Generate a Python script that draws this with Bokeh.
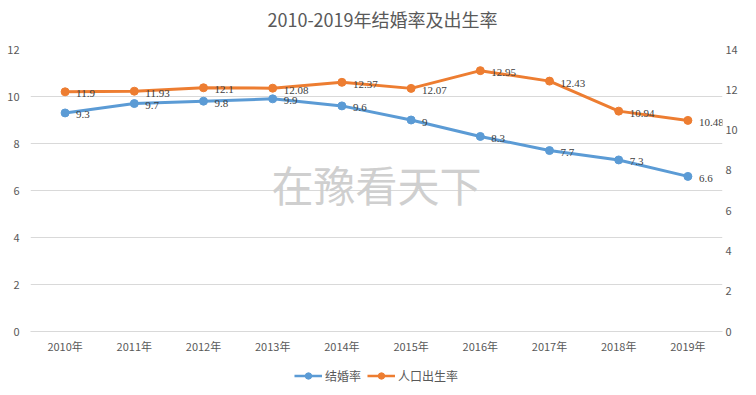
from bokeh.plotting import figure
from bokeh.layouts import column
from bokeh.models import (FactorRange, Range1d, LinearAxis, Legend, LegendItem,
                          Label, LabelSet, ColumnDataSource, FixedTicker)
from bokeh.embed import file_html
from bokeh.resources import INLINE

title_text = "2010-2019年结婚率及出生率"
years = ["2010年", "2011年", "2012年", "2013年", "2014年",
         "2015年", "2016年", "2017年", "2018年", "2019年"]
marriage = [9.3, 9.7, 9.8, 9.9, 9.6, 9, 8.3, 7.7, 7.3, 6.6]
birth = [11.9, 11.93, 12.1, 12.08, 12.37, 12.07, 12.95, 12.43, 10.94, 10.48]
left_ticks = [0, 2, 4, 6, 8, 10, 12]
right_ticks = [0, 2, 4, 6, 8, 10, 12, 14]
series_names = ["结婚率", "人口出生率"]

BLUE = "#5B9BD5"
ORANGE = "#ED7D31"
GRAY = "#595959"
CJK = "Noto Sans CJK SC"

src_m = ColumnDataSource(dict(x=years, y=marriage, t=[f"{v:g}" for v in marriage]))
src_b = ColumnDataSource(dict(x=years, y=birth, t=[f"{v:g}" for v in birth]))


def style_axis(ax, standoff):
    ax.axis_line_color = None
    ax.major_tick_line_color = None
    ax.minor_tick_line_color = None
    ax.major_tick_out = 0
    ax.major_tick_in = 0
    ax.minor_tick_out = 0
    ax.minor_tick_in = 0
    ax.major_label_text_font_size = "11px"
    ax.major_label_text_color = GRAY
    ax.major_label_text_font = CJK
    ax.major_label_standoff = standoff


def strip(height, x_range, y_range):
    f = figure(width=740, height=height, x_range=x_range, y_range=y_range,
               output_backend="svg", toolbar_location=None,
               x_axis_location=None, y_axis_location=None, min_border=0)
    f.outline_line_color = None
    f.grid.visible = False
    return f


# title strip
tt = strip(36, Range1d(0, 1), Range1d(0, 1))
tt.add_layout(Label(x=0.5, y=0.5, x_offset=6, text=title_text,
                    text_font_size="18px", text_color=GRAY, text_font=CJK,
                    text_align="center", text_baseline="middle"))

# main chart
p = figure(width=740, height=327, x_range=FactorRange(factors=years),
           y_range=Range1d(0, 12), output_backend="svg", toolbar_location=None,
           min_border_left=30, min_border_right=15, min_border_top=13,
           min_border_bottom=32)
p.extra_y_ranges = {"right": Range1d(0, 14)}

p.outline_line_color = None
p.xgrid.visible = False
p.ygrid.grid_line_color = "#d9d9d9"
p.ygrid.grid_line_width = 1

p.yaxis.ticker = FixedTicker(ticks=left_ticks)
style_axis(p.yaxis[0], 11)
style_axis(p.xaxis[0], 6)
p.xaxis.axis_line_color = "#d9d9d9"

ra = LinearAxis(y_range_name="right", ticker=FixedTicker(ticks=right_ticks))
style_axis(ra, 3)
p.add_layout(ra, "right")

wm = Label(x=5, y=6.3, text="在豫看天下", text_font_size="42px",
           text_color="#cfcfcf", text_align="center", text_baseline="middle",
           text_font=CJK)
p.add_layout(wm)

p.line("x", "y", source=src_m, line_color=BLUE, line_width=3)
p.scatter("x", "y", source=src_m, size=8, fill_color=BLUE, line_color=BLUE)
p.line("x", "y", source=src_b, line_color=ORANGE, line_width=3, y_range_name="right")
p.scatter("x", "y", source=src_b, size=8, fill_color=ORANGE, line_color=ORANGE,
          y_range_name="right")

lab_m = LabelSet(x="x", y="y", text="t", source=src_m, x_offset=11, y_offset=-2,
                 text_align="left", text_baseline="middle", text_font_size="11px",
                 text_color="#404040", text_font="Noto Sans")
lab_b = LabelSet(x="x", y="y", text="t", source=src_b, x_offset=11, y_offset=-2,
                 text_align="left", text_baseline="middle", text_font_size="11px",
                 text_color="#404040", text_font="Noto Sans", y_range_name="right")
p.add_layout(lab_m)
p.add_layout(lab_b)

# legend strip (series drawn out of view so only the legend shows)
lg = strip(24, FactorRange(factors=years), Range1d(-2, -1))
gl1 = lg.line(x=years, y=marriage, line_color=BLUE, line_width=2.5)
gs1 = lg.scatter(x=years, y=marriage, size=7, fill_color=BLUE, line_color=BLUE)
gl2 = lg.line(x=years, y=birth, line_color=ORANGE, line_width=2.5)
gs2 = lg.scatter(x=years, y=birth, size=7, fill_color=ORANGE, line_color=ORANGE)
legend = Legend(items=[LegendItem(label=series_names[0], renderers=[gl1, gs1]),
                       LegendItem(label=series_names[1], renderers=[gl2, gs2])],
                orientation="horizontal", location="center",
                border_line_color=None, background_fill_alpha=0,
                label_text_font_size="12px", label_text_color=GRAY,
                label_text_font=CJK, glyph_width=28, glyph_height=16,
                label_standoff=3, spacing=6, padding=0, margin=0)
lg.add_layout(legend)

layout = column(tt, p, lg, spacing=0)
open("out.html", "w").write(file_html(layout, INLINE))
